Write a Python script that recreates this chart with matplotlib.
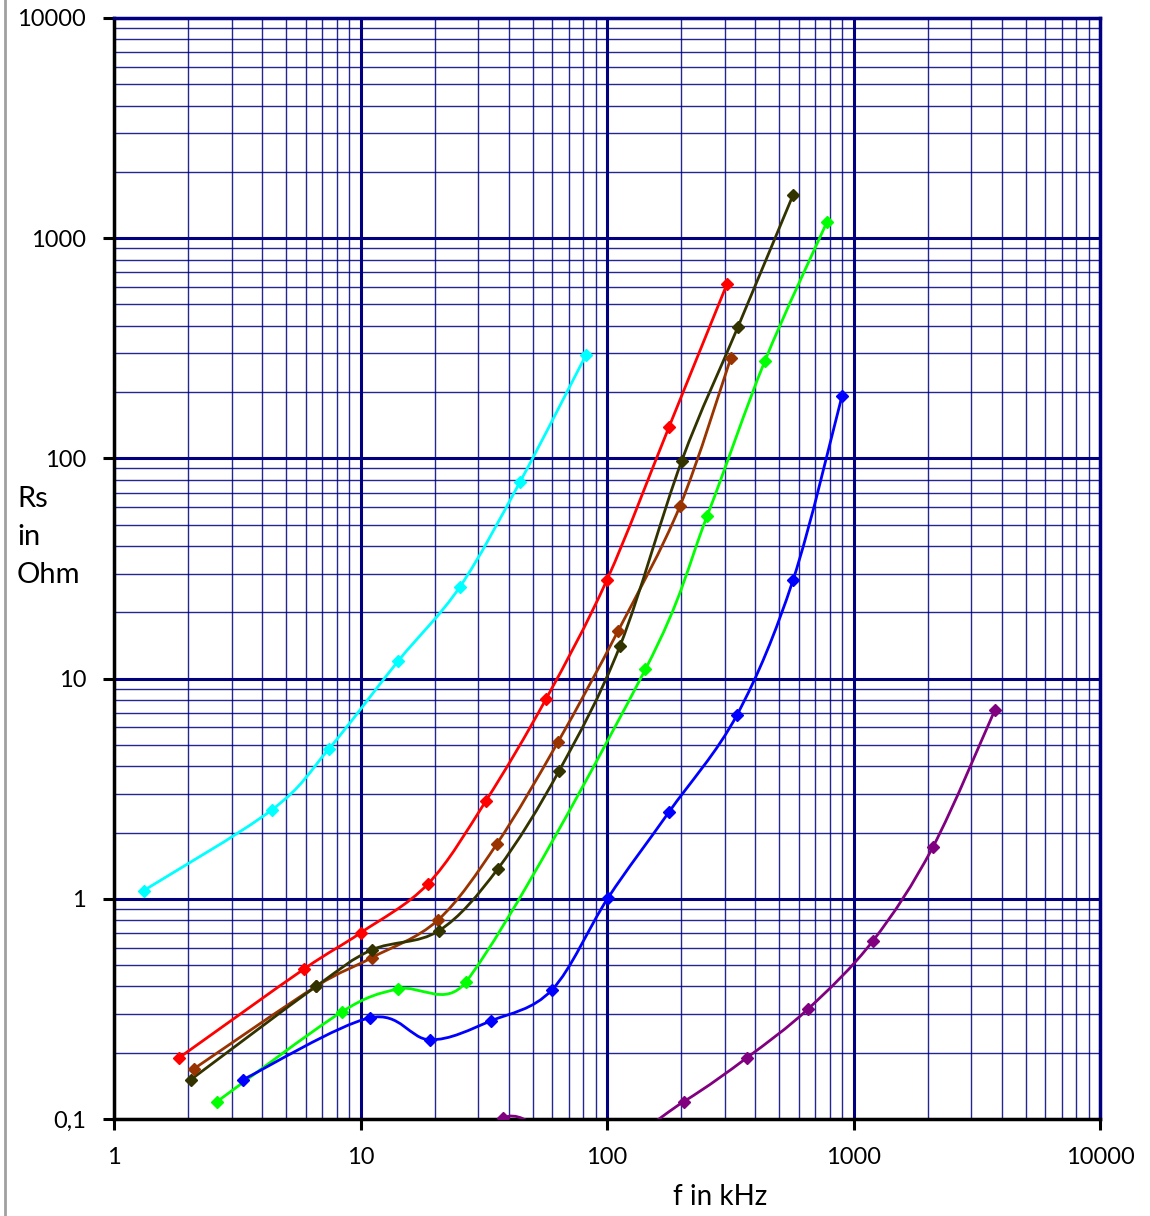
import numpy as np

import matplotlib
matplotlib.use('Agg')
from matplotlib import pyplot as plt
from matplotlib import ticker as mticker
from matplotlib.path import Path
from matplotlib.patches import PathPatch
from matplotlib.lines import Line2D

# Rs vs f readings (f in kHz, Rs in Ohm)
cyan_f   = [1.32, 4.38, 7.45, 14.2, 25.3, 44.4, 82.2]
cyan_r   = [1.09, 2.54, 4.8, 12.0, 26.1, 78.3, 295]
red_f    = [1.84, 5.9, 10.0, 18.8, 32.3, 56.6, 100, 178.5, 307]
red_r    = [0.19, 0.48, 0.70, 1.17, 2.79, 8.09, 28.1, 139, 621]
brown_f  = [2.11, 6.6, 11.1, 20.6, 35.8, 63.3, 111, 198, 318]
brown_r  = [0.169, 0.40, 0.54, 0.80, 1.78, 5.16, 16.5, 61, 286]
olive_f  = [2.05, 6.6, 11.1, 20.8, 36.1, 63.9, 113, 201, 340, 569]
olive_r  = [0.151, 0.40, 0.586, 0.716, 1.37, 3.81, 14.1, 97.5, 396, 1574]
green_f  = [2.62, 8.41, 14.2, 26.8, 143, 255, 437, 781]
green_r  = [0.12, 0.307, 0.39, 0.42, 11.0, 54.9, 277, 1187]
blue_f   = [3.34, 10.9, 19.1, 33.8, 59.8, 101, 178.5, 337, 569, 898]
blue_r   = [0.151, 0.288, 0.229, 0.279, 0.386, 1.01, 2.48, 6.85, 28.1, 192]
purple_f = [20, 37.9, 85, 205, 370, 654, 1200, 2100, 3750]
purple_r = [0.03, 0.101, 0.068, 0.12, 0.19, 0.316, 0.645, 1.72, 7.22]

series = [
    (cyan_f,   cyan_r,   '#00ffff'),
    (red_f,    red_r,    '#ff0000'),
    (brown_f,  brown_r,  '#993300'),
    (olive_f,  olive_r,  '#333300'),
    (green_f,  green_r,  '#00ff00'),
    (blue_f,   blue_r,   '#0000ff'),
    (purple_f, purple_r, '#800080'),
]

# pixels per decade, used so the smoothing behaves like it does on screen
XDEC, YDEC = 246.5, 220.2

def smooth_path(xs, ys):
    # Excel-like smoothed line: Bezier segments, control arms capped at half the segment
    p = np.column_stack([np.log10(xs) * XDEC, np.log10(ys) * YDEC])
    n = len(p)
    verts = [p[0]]
    codes = [Path.MOVETO]
    for i in range(n - 1):
        p0 = p[i - 1] if i > 0 else p[i]
        p1, p2 = p[i], p[i + 1]
        p3 = p[i + 2] if i + 2 < n else p[i + 1]
        d12 = np.hypot(*(p2 - p1))
        d02 = np.hypot(*(p2 - p0))
        d13 = np.hypot(*(p3 - p1))
        f1 = 1 / 6 if d02 / 6 < d12 / 2 else d12 / 2 / d02
        f2 = 1 / 6 if d13 / 6 < d12 / 2 else d12 / 2 / d13
        c1 = p1 + (p2 - p0) * f1
        c2 = p2 - (p3 - p1) * f2
        verts += [c1, c2, p2]
        codes += [Path.CURVE4] * 3
    v = np.array(verts)
    v = np.column_stack([10 ** (v[:, 0] / XDEC), 10 ** (v[:, 1] / YDEC)])
    return Path(v, codes)

def main():
    plt.rcParams['font.family'] = ['Lato', 'DejaVu Sans']
    fig = plt.figure(figsize=(11.5, 12.16), dpi=100)
    ax = fig.add_axes([114 / 1150, 97 / 1216, 986 / 1150, 1101 / 1216])
    ax.set_xscale('log')
    ax.set_yscale('log')
    ax.set_xlim(1, 10000)
    ax.set_ylim(0.1, 10000)

    navy = '#000080'
    ax.grid(True, which='major', color=navy, lw=2.2, zorder=0)
    ax.grid(True, which='minor', color=navy, lw=1.0, alpha=0.85, zorder=0)
    ax.set_axisbelow(True)

    for xs, ys, col in series:
        patch = PathPatch(smooth_path(xs, ys), fill=False, edgecolor=col, lw=2.0, zorder=3)
        ax.add_patch(patch)
        ax.plot(xs, ys, ls='none', marker='D', ms=6.5, color=col, zorder=4)

    ax.xaxis.set_major_locator(mticker.LogLocator(base=10, numticks=10))
    ax.yaxis.set_major_locator(mticker.LogLocator(base=10, numticks=10))
    ax.xaxis.set_minor_locator(mticker.LogLocator(base=10, subs=np.arange(2, 10), numticks=20))
    ax.yaxis.set_minor_locator(mticker.LogLocator(base=10, subs=np.arange(2, 10), numticks=20))
    ax.xaxis.set_minor_formatter(mticker.NullFormatter())
    ax.yaxis.set_minor_formatter(mticker.NullFormatter())
    fmt = mticker.FuncFormatter(lambda v, pos: ('%g' % v).replace('.', ','))
    ax.xaxis.set_major_formatter(fmt)
    ax.yaxis.set_major_formatter(fmt)
    ax.tick_params(which='major', direction='out', length=8, width=2.2, color='black',
                   labelsize=17, pad=12)
    ax.tick_params(which='minor', length=0)

    for s in ['left', 'bottom']:
        ax.spines[s].set_color('black')
        ax.spines[s].set_linewidth(2.5)
    for s in ['top', 'right']:
        ax.spines[s].set_color(navy)
        ax.spines[s].set_linewidth(2.5)

    fig.text(17 / 1150, 1 - 537 / 1216, 'Rs\nin\nOhm', ha='left', va='center',
             fontsize=21, linespacing=1.55)
    fig.text(720 / 1150, 1 - 1197 / 1216, 'f in kHz', ha='center', va='center', fontsize=20)
    fig.add_artist(Line2D([5 / 1150, 5 / 1150], [0, 1], color='#a0a0a0', lw=2))

    fig.savefig('out.png', dpi=100)
    plt.close()

if __name__ == '__main__': main()
